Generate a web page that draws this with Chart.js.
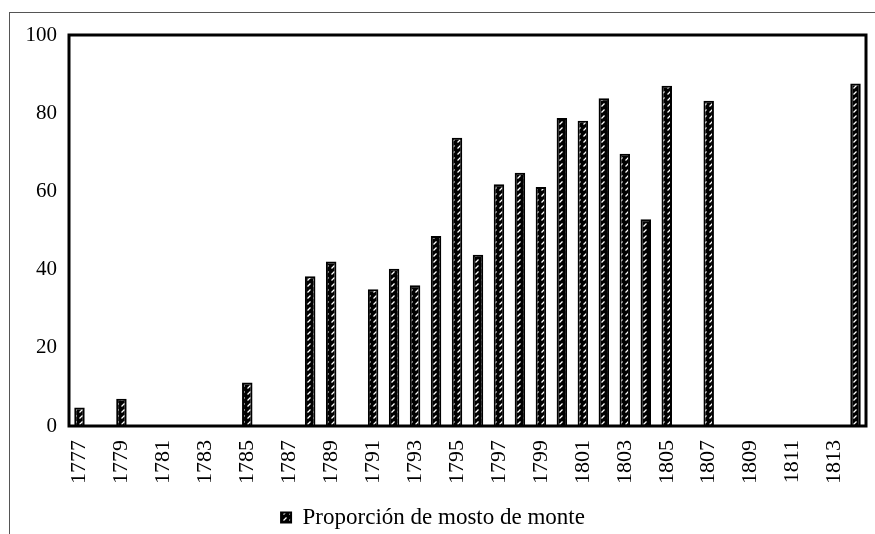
<!DOCTYPE html>
<html>
<head>
<meta charset="utf-8">
<script src="https://cdn.jsdelivr.net/npm/chart.js@4"></script>
<style>
  html, body { margin: 0; padding: 0; background: #fff; }
  #marco { position: absolute; left: 9px; top: 12px; width: 900px; height: 600px;
           border-left: 1.5px solid #555; border-top: 1.5px solid #555; }
  #caja { position: absolute; left: 0; top: 0; width: 875px; height: 534px; }
</style>
</head>
<body>
<div id="marco"></div>
<div id="caja"><canvas id="grafico"></canvas></div>
<script>
// Años (uno por categoría)
const anios = ['1777','1778','1779','1780','1781','1782','1783','1784','1785','1786',
  '1787','1788','1789','1790','1791','1792','1793','1794','1795','1796',
  '1797','1798','1799','1800','1801','1802','1803','1804','1805','1806',
  '1807','1808','1809','1810','1811','1812','1813','1814'];

// Proporción de mosto de monte (%)
const proporcion = [4.7, null, 7.0, null, null, null, null, null, 11.1, null,
  null, 38.3, 42.1, null, 35.0, 40.2, 36.0, 48.6, 73.7, 43.8,
  61.8, 64.8, 61.1, 78.8, 78.1, 83.8, 69.6, 52.9, 87.0, null,
  83.2, null, null, null, null, null, null, 87.6];

const ticksY = [0, 20, 40, 60, 80, 100];
const leyenda = 'Proporción de mosto de monte';

// Trama rayada de las barras
function crearTrama() {
  const c = document.createElement('canvas');
  c.width = 6; c.height = 6;
  const g = c.getContext('2d');
  g.fillStyle = '#000';
  g.fillRect(0, 0, 6, 6);
  g.strokeStyle = '#fff';
  g.lineWidth = 1.3;
  g.beginPath();
  g.moveTo(1.5, 4.5); g.lineTo(4.5, 1.5);
  g.stroke();
  return g.createPattern(c, 'repeat');
}
const trama = crearTrama();

// Marco negro del área del gráfico
const marcoArea = {
  id: 'marcoArea',
  afterDraw(chart) {
    const { ctx, chartArea: a } = chart;
    ctx.save();
    ctx.strokeStyle = '#000';
    ctx.lineWidth = 3;
    ctx.strokeRect(a.left, a.top, a.right - a.left, a.bottom - a.top);
    ctx.restore();
  }
};

const familia = "'Liberation Serif', 'Times New Roman', serif";

new Chart(document.getElementById('grafico'), {
  type: 'bar',
  data: {
    labels: anios,
    datasets: [{
      label: leyenda,
      data: proporcion,
      backgroundColor: trama,
      borderColor: '#000',
      borderWidth: 2,
      barPercentage: 0.5,
      categoryPercentage: 1.0
    }]
  },
  options: {
    responsive: true,
    maintainAspectRatio: false,
    animation: false,
    layout: { autoPadding: false, padding: { top: 35, right: 9, left: 0, bottom: -5 } },
    plugins: {
      tooltip: { enabled: false },
      legend: {
        position: 'bottom',
        labels: {
          color: '#000',
          font: { family: familia, size: 23 },
          boxWidth: 10,
          boxHeight: 10,
          padding: 3
        }
      }
    },
    scales: {
      x: {
        grid: { display: false, drawTicks: false },
        border: { display: false },
        afterFit: s => { s.height = 77; s.paddingLeft = 0; s.paddingRight = 0; },
        ticks: {
          color: '#000',
          font: { family: familia, size: 22 },
          autoSkip: false,
          minRotation: 90,
          maxRotation: 90,
          padding: 14,
          callback: (v, i) => (i % 2 === 0 ? anios[i] : '')
        }
      },
      y: {
        min: 0,
        max: 100,
        grid: { display: false, drawTicks: false },
        border: { display: false },
        afterFit: s => { s.width = 69; },
        afterBuildTicks: s => { s.ticks = ticksY.map(v => ({ value: v })); },
        ticks: {
          color: '#000',
          font: { family: familia, size: 21 },
          padding: 12
        }
      }
    }
  },
  plugins: [marcoArea]
});
</script>
</body>
</html>
